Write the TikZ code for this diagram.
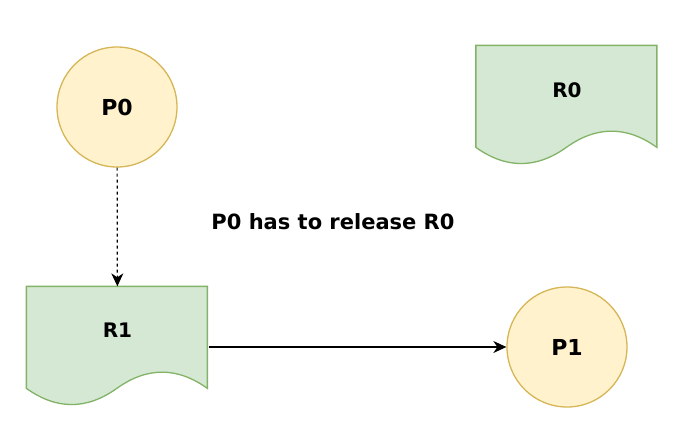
\documentclass[tikz,border=0pt]{standalone}
\usepackage{fontspec}
\setmainfont{DejaVu Sans}
\usepackage{tikz}
\usetikzlibrary{shapes,arrows.meta}

\definecolor{resfill}{HTML}{D5E8D4}
\definecolor{resdraw}{HTML}{82B366}
\definecolor{procfill}{HTML}{FFF2CC}
\definecolor{procdraw}{HTML}{D6B656}

\tikzset{
  proc/.style={circle,fill=procfill,draw=procdraw,minimum size=120pt,inner sep=0pt,
    font=\fontsize{22}{26}\selectfont\bfseries},
  res/.style={rectangle,minimum width=181pt,minimum height=120pt,inner sep=0pt},
  reslabel/.style={font=\fontsize{20}{24}\selectfont\bfseries},
  doc/.style={fill=resfill,draw=resdraw},
  edge/.style={->,line width=1.2pt}
}

% wavy document outline round an (empty) res node
\newcommand{\docoutline}[1]{%
  \begin{scope}[shift={(#1.north west)}]
    \draw[doc] (0,0) -- (181,0) -- (181,102)
      .. controls (150.8,80.4) and (120.7,80.4) .. (90.5,102)
      .. controls (60.3,123.6) and (30.2,123.6) .. (0,102) -- cycle;
  \end{scope}}

\begin{document}
\begin{tikzpicture}[x=1pt,y=-1pt,line width=1.3pt,>={Stealth[length=13pt,width=12pt,inset=4pt]}]
 \useasboundingbox (0,0) rectangle (696,445);

 % Processes
 \node[proc] (P0) at (117,107) {P0};
 \node[proc] (P1) at (567,347) {P1};

 % Resources
 \node[res] (R0) at (567,106) {};
 \node[res] (R1) at (117.5,347) {};
 \docoutline{R0}
 \docoutline{R1}
 \node[reslabel] (R0text) at ([yshift=16pt]R0.center) {R0};
 \node[reslabel] (R1text) at ([yshift=17pt]R1.center) {R1};

 % Edges
 \draw[edge,dash pattern=on 3pt off 3pt] (P0) -- (R1);
 \draw[edge] (R1) -- (P1);

 % Note
 \node[font=\fontsize{21}{25}\selectfont\bfseries] (note) at (333,222) {P0 has to release R0};
\end{tikzpicture}
\end{document}
